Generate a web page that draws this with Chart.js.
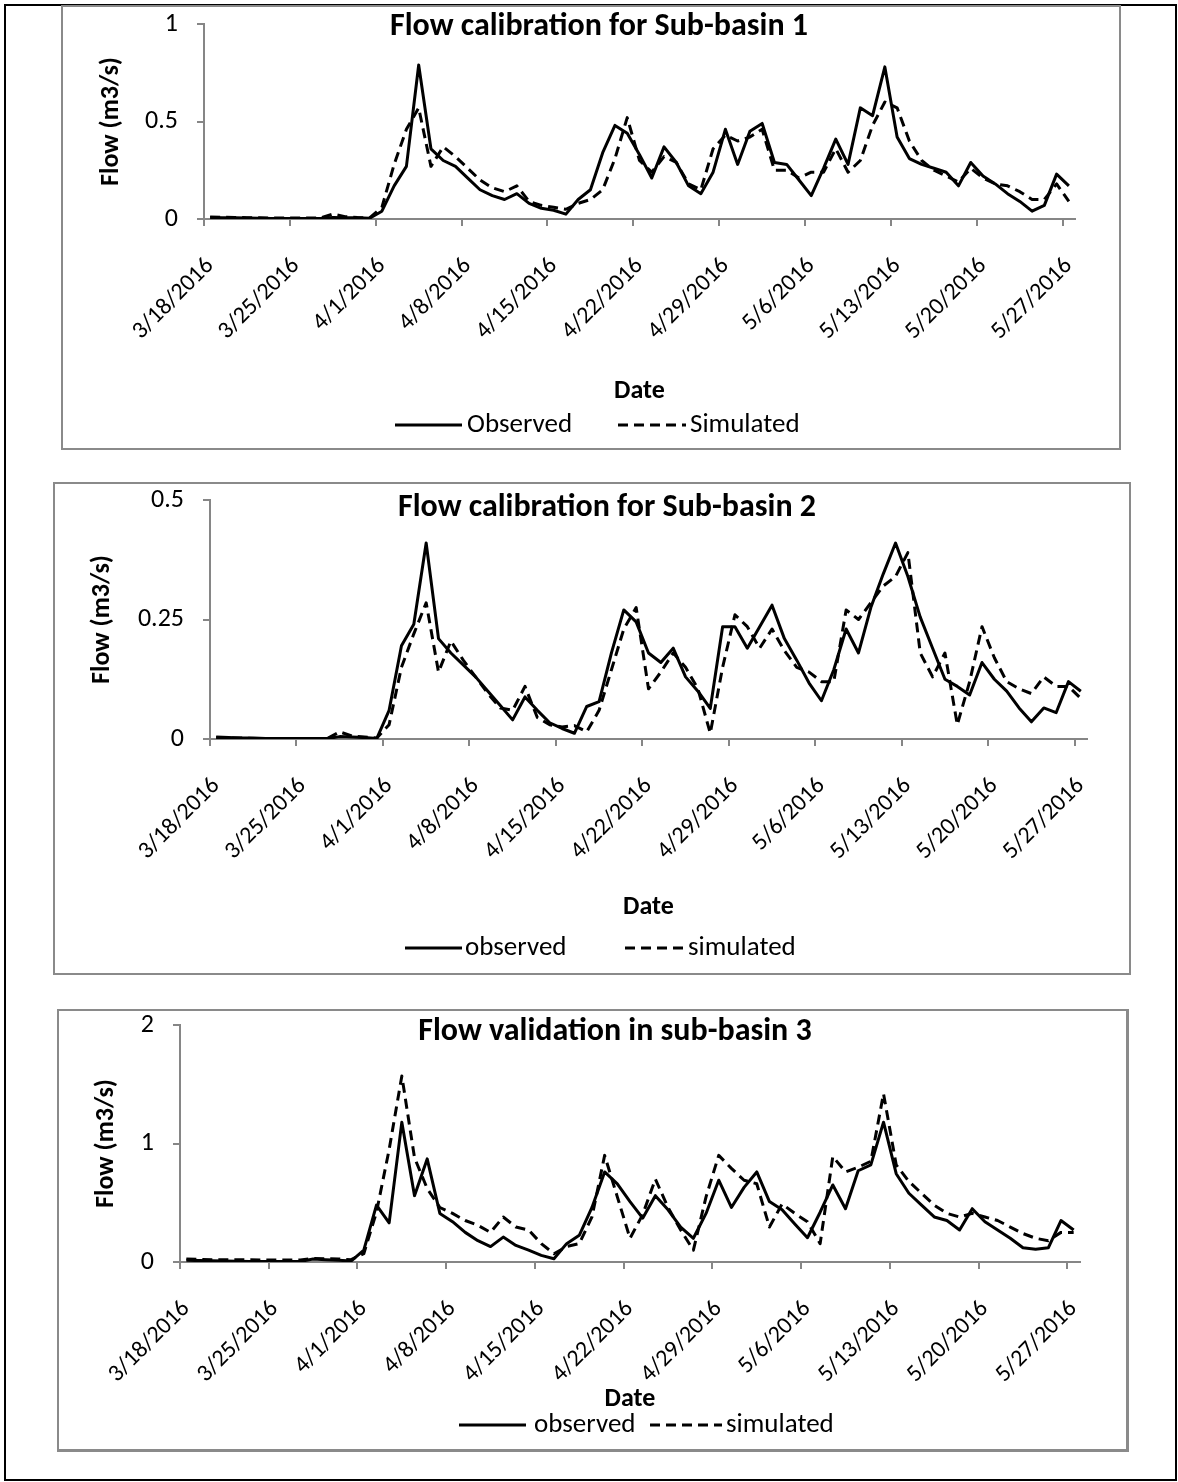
<!DOCTYPE html>
<html>
<head>
<meta charset="utf-8">
<script src="https://cdn.jsdelivr.net/npm/chart.js@4.4.1/dist/chart.umd.min.js"></script>
<style>
  body { margin: 0; background: #fff; }
  #page { position: relative; width: 1178px; height: 1482px; }
  .frame { position: absolute; left: 4px; top: 4px; width: 1173px; height: 1477px; border: 2px solid #000; box-sizing: border-box; }
  canvas { position: absolute; }
  .box { position: absolute; border: 2px solid #8a8a8a; box-sizing: border-box; }
</style>
</head>
<body>
<div id="page">
  <div class="frame"></div>
  <canvas id="c1" width="1060" height="445" style="left:61px;top:5px"></canvas>
  <canvas id="c2" width="1078" height="493" style="left:53px;top:482px"></canvas>
  <canvas id="c3" width="1072" height="443" style="left:57px;top:1009px"></canvas>
  <div class="box" style="left:61px;top:5px;width:1060px;height:445px"></div>
  <div class="box" style="left:53px;top:482px;width:1078px;height:493px"></div>
  <div class="box" style="left:57px;top:1009px;width:1072px;height:443px;border-right-width:3px;border-bottom-width:3px"></div>
</div>
<script>
// one entry per day, 3/18/2016 .. 5/27/2016
const dates = [
  '3/18/2016','3/19/2016','3/20/2016','3/21/2016','3/22/2016','3/23/2016','3/24/2016',
  '3/25/2016','3/26/2016','3/27/2016','3/28/2016','3/29/2016','3/30/2016','3/31/2016',
  '4/1/2016','4/2/2016','4/3/2016','4/4/2016','4/5/2016','4/6/2016','4/7/2016',
  '4/8/2016','4/9/2016','4/10/2016','4/11/2016','4/12/2016','4/13/2016','4/14/2016',
  '4/15/2016','4/16/2016','4/17/2016','4/18/2016','4/19/2016','4/20/2016','4/21/2016',
  '4/22/2016','4/23/2016','4/24/2016','4/25/2016','4/26/2016','4/27/2016','4/28/2016',
  '4/29/2016','4/30/2016','5/1/2016','5/2/2016','5/3/2016','5/4/2016','5/5/2016',
  '5/6/2016','5/7/2016','5/8/2016','5/9/2016','5/10/2016','5/11/2016','5/12/2016',
  '5/13/2016','5/14/2016','5/15/2016','5/16/2016','5/17/2016','5/18/2016','5/19/2016',
  '5/20/2016','5/21/2016','5/22/2016','5/23/2016','5/24/2016','5/25/2016','5/26/2016',
  '5/27/2016'
];
const tickLabels = ['3/18/2016','3/25/2016','4/1/2016','4/8/2016','4/15/2016','4/22/2016',
  '4/29/2016','5/6/2016','5/13/2016','5/20/2016','5/27/2016'];

// sub-basin 1
const obs1 = [0.008,0.007,0.006,0.005,0.004,0.003,0.003,0.003,0.003,0.003,0.008,0.007,0.006,0.004,
  0.04,0.17,0.27,0.79,0.36,0.30,0.27,0.21,0.15,0.12,0.10,0.13,0.08,0.055,
  0.045,0.025,0.10,0.15,0.34,0.48,0.44,0.33,0.21,0.37,0.29,0.17,0.13,0.24,
  0.46,0.28,0.45,0.49,0.29,0.28,0.20,0.12,0.26,0.41,0.28,0.57,0.53,0.78,
  0.42,0.31,0.28,0.26,0.24,0.17,0.29,0.22,0.18,0.13,0.09,0.04,0.07,0.23,0.17];
const sim1 = [0.01,0.009,0.008,0.007,0.006,0.005,0.005,0.005,0.005,0.005,0.025,0.012,0.008,0.006,
  0.06,0.28,0.46,0.57,0.27,0.37,0.32,0.26,0.20,0.16,0.14,0.17,0.09,0.07,
  0.06,0.05,0.08,0.10,0.15,0.31,0.52,0.30,0.24,0.32,0.29,0.18,0.15,0.36,
  0.43,0.40,0.42,0.46,0.25,0.25,0.21,0.24,0.24,0.36,0.24,0.30,0.48,0.60,
  0.57,0.40,0.30,0.25,0.22,0.19,0.26,0.21,0.18,0.17,0.14,0.10,0.10,0.18,0.09];

// sub-basin 2
const obs2 = [0.004,0.003,0.002,0.002,0.001,0.001,0.001,0.001,0.001,0.001,0.005,0.004,0.003,0.001,
  0.06,0.195,0.24,0.41,0.21,0.18,0.155,0.13,0.10,0.07,0.04,0.088,0.06,0.034,
  0.022,0.012,0.068,0.078,0.18,0.27,0.245,0.18,0.16,0.19,0.13,0.10,0.064,0.235,
  0.235,0.19,0.235,0.28,0.21,0.165,0.117,0.08,0.145,0.23,0.18,0.275,0.345,0.41,
  0.34,0.255,0.19,0.125,0.11,0.092,0.16,0.125,0.10,0.065,0.036,0.065,0.055,0.12,0.10];
const sim2 = [0.003,0.002,0.002,0.001,0.001,0.001,0.001,0.001,0.001,0.001,0.015,0.006,0.004,0.002,
  0.03,0.15,0.22,0.285,0.14,0.205,0.165,0.13,0.095,0.065,0.06,0.11,0.045,0.03,
  0.025,0.028,0.015,0.06,0.145,0.23,0.275,0.105,0.14,0.18,0.15,0.105,0.012,0.15,
  0.26,0.235,0.19,0.23,0.185,0.15,0.14,0.12,0.12,0.27,0.25,0.285,0.32,0.34,
  0.39,0.18,0.13,0.18,0.03,0.12,0.235,0.17,0.12,0.105,0.095,0.13,0.11,0.11,0.085];

// sub-basin 3
const obs3 = [0.014,0.012,0.01,0.008,0.006,0.005,0.005,0.005,0.005,0.005,0.025,0.02,0.015,0.008,
  0.10,0.48,0.33,1.18,0.56,0.87,0.41,0.34,0.25,0.18,0.13,0.21,0.14,0.10,
  0.056,0.028,0.155,0.225,0.46,0.76,0.66,0.51,0.37,0.56,0.44,0.295,0.20,0.41,
  0.69,0.46,0.63,0.76,0.51,0.44,0.32,0.205,0.42,0.65,0.45,0.77,0.82,1.18,
  0.745,0.58,0.48,0.38,0.35,0.27,0.45,0.34,0.27,0.20,0.12,0.107,0.12,0.35,0.27];
const sim3 = [0.025,0.022,0.02,0.02,0.018,0.018,0.017,0.017,0.017,0.017,0.03,0.028,0.025,0.02,
  0.07,0.42,0.95,1.57,0.88,0.62,0.46,0.41,0.35,0.31,0.25,0.38,0.295,0.27,
  0.155,0.07,0.13,0.155,0.38,0.90,0.55,0.20,0.40,0.70,0.46,0.27,0.10,0.55,
  0.90,0.79,0.69,0.66,0.295,0.49,0.41,0.34,0.155,0.89,0.76,0.80,0.85,1.42,
  0.82,0.68,0.58,0.48,0.41,0.38,0.41,0.38,0.35,0.295,0.24,0.20,0.18,0.25,0.25];

const FONT = 'Carlito, "Liberation Sans", sans-serif';
const AXIS_GREY = '#868686';
const DASH = [10, 6];

// title inside the plot top + line-sample legend under the axis title
const overlay = {
  id: 'overlay',
  afterDraw(chart, args, o) {
    const ctx = chart.ctx;
    ctx.save();
    ctx.fillStyle = '#000';
    ctx.textBaseline = 'middle';
    ctx.textAlign = 'center';
    ctx.font = 'bold 32px ' + FONT;
    ctx.fillText(o.title, o.titleX, o.titleY);

    ctx.textAlign = 'left';
    ctx.font = '27px ' + FONT;
    o.legend.forEach(item => {
      ctx.beginPath();
      ctx.strokeStyle = '#000';
      ctx.lineWidth = 3;
      ctx.setLineDash(item.dash);
      ctx.moveTo(item.x0, o.legendY);
      ctx.lineTo(item.x1, o.legendY);
      ctx.stroke();
      ctx.setLineDash([]);
      ctx.fillText(item.text, item.tx, o.legendY);
    });
    ctx.restore();
  }
};

const toPoints = vals => vals.map((v, i) => ({ x: i + 0.5, y: v }));

function makeChart(id, obs, sim, c) {
  const canvas = document.getElementById(id);
  return new Chart(canvas, {
    type: 'line',
    data: {
      datasets: [
        { label: c.names[0], data: toPoints(obs), borderColor: '#000', borderWidth: 3,
          pointRadius: 0, tension: 0, borderJoinStyle: 'round' },
        { label: c.names[1], data: toPoints(sim), borderColor: '#000', borderWidth: 3,
          borderDash: DASH, pointRadius: 0, tension: 0, borderJoinStyle: 'round' }
      ]
    },
    options: {
      responsive: false,
      animation: false,
      devicePixelRatio: 1,
      layout: { padding: { left: 0, top: c.area.top, right: canvas.width - c.area.right, bottom: 0 } },
      plugins: {
        legend: { display: false },
        tooltip: { enabled: false },
        overlay: { title: c.title, titleX: c.titleX, titleY: c.titleY, legendY: c.legendY, legend: c.legend }
      },
      scales: {
        x: {
          type: 'linear',
          min: 0,
          max: dates.length,
          afterBuildTicks: s => { s.ticks = tickLabels.map((t, k) => ({ value: k * 7 })); },
          afterFit: s => {
            s.height = canvas.height - c.area.bottom;
            s.paddingLeft = 0;
            s.paddingRight = 0;
          },
          grid: { drawOnChartArea: false, drawTicks: true, tickLength: 7, color: AXIS_GREY, lineWidth: 2 },
          border: { display: true, color: AXIS_GREY, width: 2 },
          ticks: {
            autoSkip: false, maxRotation: 45, minRotation: 45,
            labelOffset: 6, padding: c.xPad,
            color: '#000', font: { family: FONT, size: 24 },
            callback: v => tickLabels[v / 7]
          },
          title: { display: true, text: 'Date', color: '#000',
            font: { family: FONT, size: 26, weight: 'bold' },
            padding: { top: 0, bottom: c.datePad } }
        },
        y: {
          min: 0,
          max: c.yMax,
          afterFit: s => {
            s.width = c.area.left;
            s.paddingTop = 0;
            s.paddingBottom = 0;
          },
          grid: { drawOnChartArea: false, drawTicks: true, tickLength: 7, color: AXIS_GREY, lineWidth: 2 },
          border: { display: true, color: AXIS_GREY, width: 2 },
          ticks: { stepSize: c.yStep, padding: 19, color: '#000', font: { family: FONT, size: 26 },
            callback: v => String(v) },
          title: { display: true, text: 'Flow (m3/s)', color: '#000',
            font: { family: FONT, size: 26, weight: 'bold' },
            padding: { top: c.yTitlePad, bottom: 0 } }
        }
      }
    },
    plugins: [overlay]
  });
}

makeChart('c1', obs1, sim1, {
  names: ['Observed', 'Simulated'],
  area: { left: 143, top: 19, right: 1014, bottom: 214 },
  yMax: 1, yStep: 0.5, xPad: 26, datePad: 43, yTitlePad: 35,
  title: 'Flow calibration for Sub-basin 1', titleX: 538, titleY: 22,
  legendY: 420,
  legend: [
    { text: 'Observed', dash: [], x0: 334, x1: 401, tx: 406 },
    { text: 'Simulated', dash: DASH, x0: 557, x1: 625, tx: 629 }
  ]
});

makeChart('c2', obs2, sim2, {
  names: ['observed', 'simulated'],
  area: { left: 157, top: 18, right: 1034, bottom: 257 },
  yMax: 0.5, yStep: 0.25, xPad: 26, datePad: 52, yTitlePad: 34,
  title: 'Flow calibration for Sub-basin 2', titleX: 554, titleY: 26,
  legendY: 466,
  legend: [
    { text: 'observed', dash: [], x0: 352, x1: 409, tx: 412 },
    { text: 'simulated', dash: DASH, x0: 572, x1: 632, tx: 635 }
  ]
});

makeChart('c3', obs3, sim3, {
  names: ['observed', 'simulated'],
  area: { left: 123, top: 16, right: 1023, bottom: 253 },
  yMax: 2, yStep: 1, xPad: 26, datePad: 37, yTitlePad: 34,
  title: 'Flow validation in sub-basin 3', titleX: 558, titleY: 23,
  legendY: 416,
  legend: [
    { text: 'observed', dash: [], x0: 402, x1: 469, tx: 477 },
    { text: 'simulated', dash: DASH, x0: 593, x1: 665, tx: 669 }
  ]
});
</script>
</body>
</html>
